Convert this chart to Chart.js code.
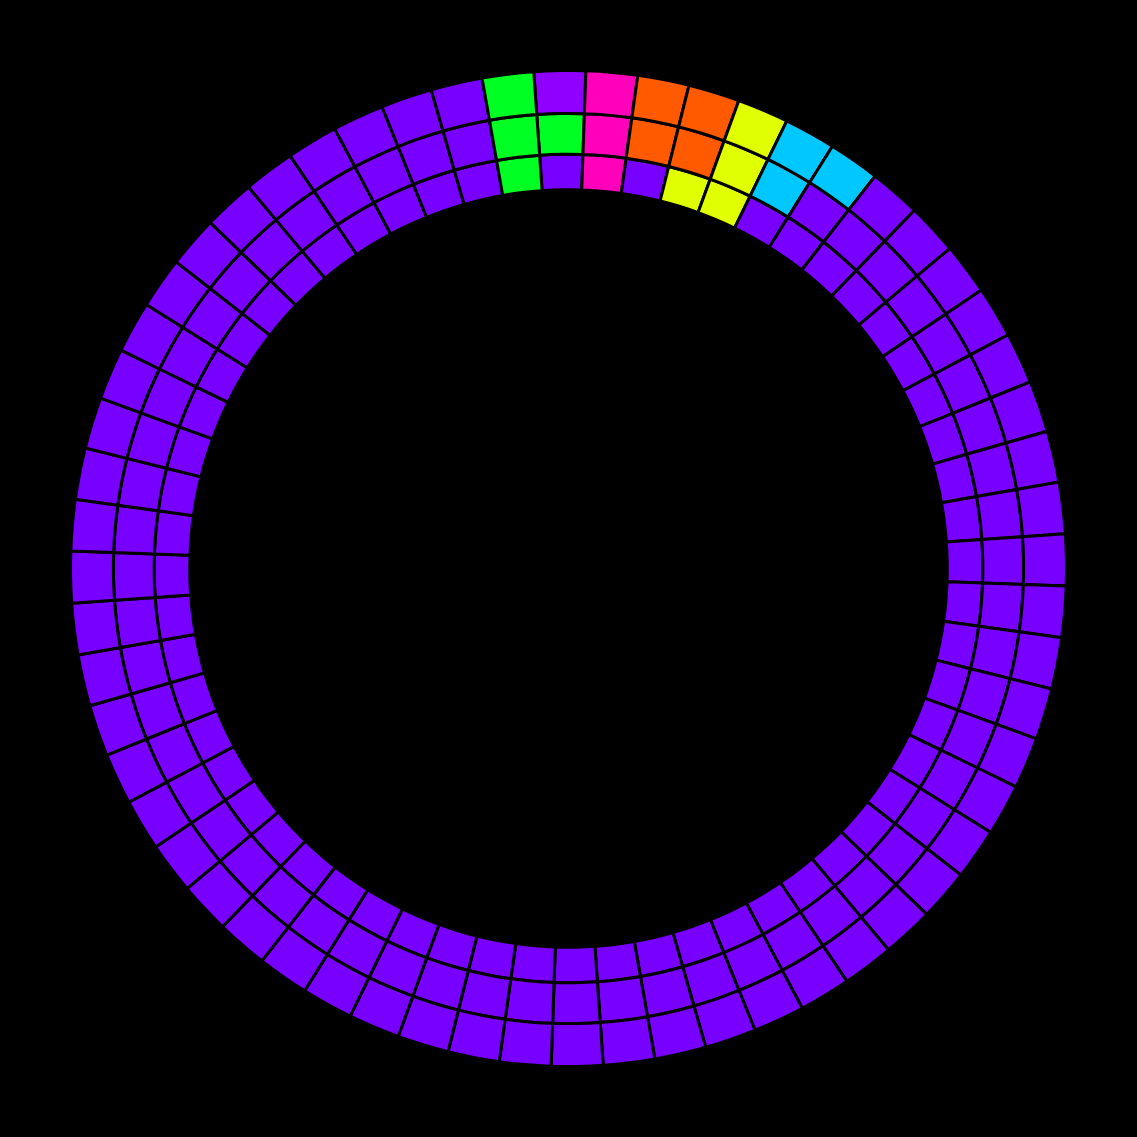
<!DOCTYPE html>
<html>
<head>
<meta charset="utf-8">
<script src="https://cdn.jsdelivr.net/npm/chart.js@4.4.1/dist/chart.umd.min.js"></script>
<style>
  html, body { margin: 0; padding: 0; background: #000; }
  #wrap { width: 1137px; height: 1137px; }
</style>
</head>
<body>
<div id="wrap"><canvas id="c"></canvas></div>
<script>
// 60 equal segments per ring; segment 0 starts at -4° (clockwise from top)
const SEGMENTS = 60;
const categories = Array.from({length: SEGMENTS}, (_, i) => 'S' + (i + 1));
const segmentValues = Array(SEGMENTS).fill(1);

// category code per segment (default 'base'); only the non-base cells are listed
const outerHighlights  = {0: 'violet', 1: 'pink', 2: 'orange', 3: 'orange', 4: 'yellow', 5: 'cyan', 6: 'cyan', 59: 'green'};
const middleHighlights = {0: 'green', 1: 'pink', 2: 'orange', 3: 'orange', 4: 'yellow', 5: 'cyan', 59: 'green'};
const innerHighlights  = {1: 'pink', 3: 'yellow', 4: 'yellow', 59: 'green'};

const ringNames = ['Outer', 'Middle', 'Inner'];

// styles
const palette = {
  base:   '#7700ff',
  violet: '#8f00ff',
  green:  '#00ff22',
  pink:   '#ff00bb',
  orange: '#ff5a00',
  yellow: '#e0ff00',
  cyan:   '#00c8ff'
};
const ringWeights = [42.7, 40.6, 35.4];

function codes(h) {
  return categories.map((_, i) => h[i] || 'base');
}
const ringCodes = [codes(outerHighlights), codes(middleHighlights), codes(innerHighlights)];

new Chart(document.getElementById('c'), {
  type: 'doughnut',
  data: {
    labels: categories,
    datasets: ringCodes.map((rc, k) => ({
      label: ringNames[k],
      data: segmentValues.slice(),
      backgroundColor: rc.map(c => palette[c]),
      borderColor: '#000',
      borderWidth: 3,
      weight: ringWeights[k]
    }))
  },
  options: {
    responsive: true,
    maintainAspectRatio: false,
    animation: false,
    rotation: -4,
    cutout: '76.06%',
    layout: { padding: 69 },
    plugins: {
      legend: { display: false },
      tooltip: { enabled: false }
    }
  }
});
</script>
</body>
</html>
